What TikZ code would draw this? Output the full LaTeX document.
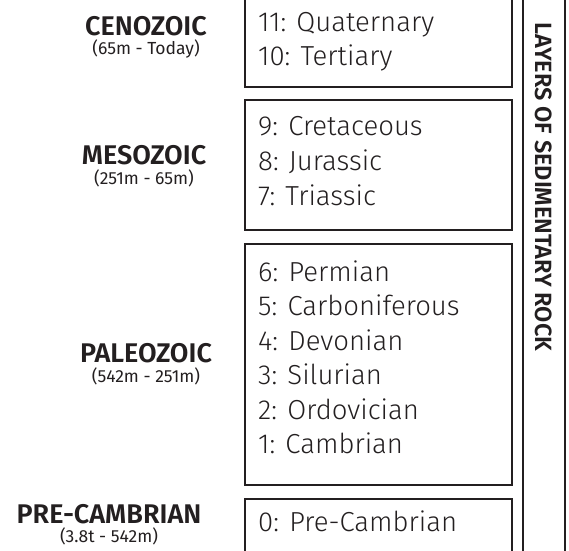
\documentclass[tikz,border=0pt]{standalone}
\usepackage{fontspec}
\setmainfont{Fira Sans Light}[BoldFont={Fira Sans SemiBold}]
\newfontfamily\rangefont{Fira Sans}
\usepackage{xcolor}
\usetikzlibrary{positioning}
\definecolor{ink}{HTML}{231F20}

\begin{document}
\begin{tikzpicture}[
    x=1pt, y=-1pt,
    layer/.style={rectangle, draw=ink, line width=1.7pt, minimum width=267pt, inner sep=0pt},
    period/.style={anchor=base west, inner sep=0pt, text=ink, font=\fontsize{27.5}{32}\selectfont},
    era/.style={anchor=base, inner sep=0pt, text=ink, font=\bfseries\fontsize{27}{32}\selectfont},
    erarange/.style={anchor=base, inner sep=0pt, text=ink, font=\rangefont\fontsize{17.5}{20}\selectfont}
]
    \useasboundingbox (0,0) rectangle (569,550);
    % Layer boxes
    \node[layer, minimum height=104pt] (ceno) at (378.5,35) {};
    \node[layer, minimum height=130pt] (meso) at (378.5,165) {};
    \node[layer, minimum height=241pt] (paleo) at (378.5,364.5) {};
    \node[layer, minimum height=80pt] (pre) at (378.5,539) {};
    % Tall side box
    \node[layer, minimum width=42pt, minimum height=580pt] (strata) at (544,275) {};
    \node[rotate=-90, inner sep=0pt, text=ink, font=\bfseries\fontsize{23.5}{28}\selectfont] (stratalabel) at (544,187) {LAYERS OF SEDIMENTARY ROCK};
    % Periods
    \foreach \name [count=\i from 0] in {11: Quaternary, 10: Tertiary}
        \node[period] (c\i) at (258,{31+34.5*\i}) {\name};
    \foreach \name [count=\i from 0] in {9: Cretaceous, 8: Jurassic, 7: Triassic}
        \node[period] (m\i) at (258,{135.5+35*\i}) {\name};
    \foreach \name [count=\i from 0] in {6: Permian, 5: Carboniferous, 4: Devonian, 3: Silurian, 2: Ordovician, 1: Cambrian}
        \node[period] (p\i) at (258,{281.5+34.4*\i}) {\name};
    \node[period] (z0) at (258,531.5) {0: Pre-Cambrian};
    % Era labels
    \node[era] (cenoname) at (146,35) {CENOZOIC};
    \node[erarange] (cenorange) at (146,54) {(65m - Today)};
    \node[era] (mesoname) at (144,164) {MESOZOIC};
    \node[erarange] (mesorange) at (144,184) {(251m - 65m)};
    \node[era] (paleoname) at (146,362) {PALEOZOIC};
    \node[erarange] (paleorange) at (146,382) {(542m - 251m)};
    \node[era] (prename) at (109,523) {PRE-CAMBRIAN};
    \node[erarange] (prerange) at (109,542) {(3.8t - 542m)};
\end{tikzpicture}
\end{document}
